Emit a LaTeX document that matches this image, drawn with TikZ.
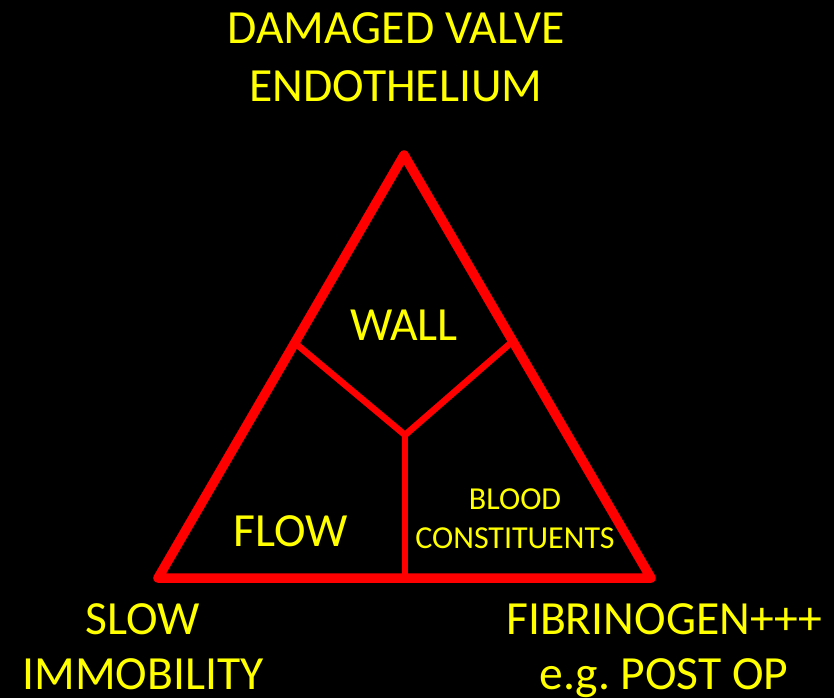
\documentclass[tikz,border=0pt]{standalone}
\usepackage{fontspec}
\setmainfont{Carlito}
\definecolor{tred}{RGB}{255,0,0}
\definecolor{tyel}{RGB}{255,255,0}
\begin{document}
\begin{tikzpicture}[x=1pt,y=-1pt,
  outer/.style={draw=tred,line width=9.5pt,line join=round,line cap=round},
  inner/.style={draw=tred,line width=6.5pt},
  big/.style={text=tyel,font=\fontsize{47.6}{57}\selectfont,anchor=base,inner sep=0pt},
  small/.style={text=tyel,font=\fontsize{32}{39}\selectfont,anchor=base,inner sep=0pt}]
\fill[black] (0,0) rectangle (834,698);
\useasboundingbox (0,0) rectangle (834,698);
% vertices
\coordinate (A) at (404,155);
\coordinate (B) at (158,578);
\coordinate (C) at (651,578);
\coordinate (L) at (295,343);
\coordinate (R) at (513,341);
\coordinate (J) at (405,435);
\coordinate (D) at (405,578);
\draw[inner] (L) -- (J) -- (R);
\draw[inner] (J) -- (D);
\draw[outer] (A) -- (B) -- (C) -- cycle;
% labels
\node[big] (t1) at (396,44) {DAMAGED VALVE};
\node[big] (t2) at (396,102) {ENDOTHELIUM};
\node[big] (wall) at (404,340) {WALL};
\node[big] (flow) at (291,546) {FLOW};
\node[small] (bl1) at (515,509) {BLOOD};
\node[small] (bl2) at (515,548) {CONSTITUENTS};
\node[big] (s1) at (143,634) {SLOW};
\node[big] (s2) at (143,689) {IMMOBILITY};
\node[big] (f1) at (664,634) {FIBRINOGEN+++};
\node[big] (f2) at (664,689) {e.g.\ POST OP};
\end{tikzpicture}
\end{document}
